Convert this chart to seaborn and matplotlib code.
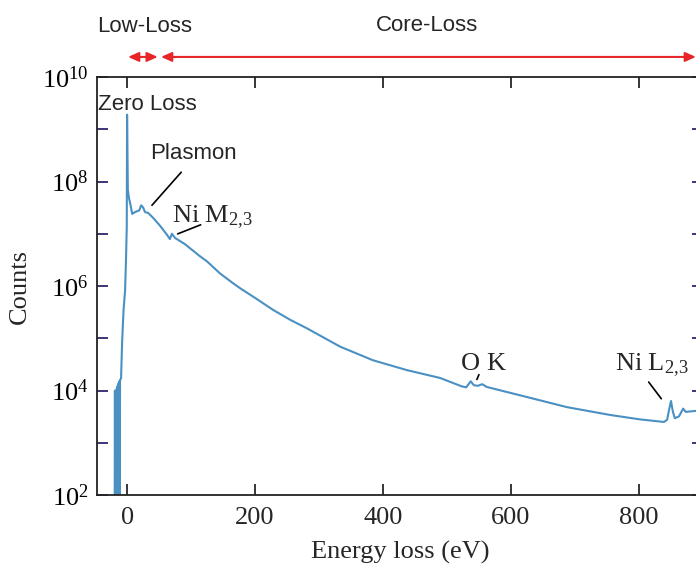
import numpy as np
import pandas as pd
import matplotlib
matplotlib.use("Agg")
import matplotlib.pyplot as plt
import matplotlib.ticker as mticker
import seaborn as sns

# ---- data ----
energy_ev = [-19.5, -19.0, -18.5, -18.0, -17.5, -17.0, -16.5, -16.0, -15.5, -15.0,
             -14.5, -14.0, -13.5, -13.0, -12.5, -12.0, -11.5, -11.0,
             -9.4, -7.8, -5.5, -3.1, -1.6, -0.5, 0.0, 1.2, 3.0, 5.5, 8.0, 12.5,
             19.0, 22.0, 25.0, 28.0, 33.0, 41.0, 52.0, 62.5, 67.0, 70.0, 75.0,
             90.6, 114.0, 125.0, 145.0, 166.0, 177.0, 203.0, 228.0, 255.0, 281.0,
             333.0, 384.0, 437.5, 489.0, 523.0, 530.0, 537.0, 542.0, 548.0, 555.0,
             562.0, 614.0, 687.5, 755.0, 801.5, 839.0, 844.0, 847.0, 850.0, 853.0,
             856.0, 862.5, 869.0, 873.0, 900.0]
counts = [10, 1.0e4, 10, 8.0e3, 10, 9.0e3, 10, 1.1e4, 10, 1.2e4,
          10, 1.3e4, 10, 1.4e4, 10, 1.5e4, 10, 1.6e4,
          1.7e4, 8.1e4, 3.5e5, 8.3e5, 3.5e6, 1.35e7, 1.9e9, 6.9e7, 4.8e7, 3.5e7, 2.4e7, 2.6e7,
          2.8e7, 3.5e7, 3.2e7, 2.6e7, 2.5e7, 2.0e7, 1.4e7, 9.5e6, 7.9e6, 1.0e7, 8.3e6,
          6.3e6, 3.7e6, 2.95e6, 1.75e6, 1.12e6, 9.0e5, 5.6e5, 3.5e5, 2.25e5, 1.55e5,
          6.9e4, 3.8e4, 2.45e4, 1.74e4, 1.2e4, 1.15e4, 1.5e4, 1.26e4, 1.23e4, 1.32e4,
          1.17e4, 8.1e3, 4.8e3, 3.4e3, 2.8e3, 2.5e3, 2.75e3, 4.3e3, 6.3e3, 3.9e3,
          2.95e3, 3.2e3, 4.5e3, 3.9e3, 4.2e3]

y_ticks = [1e2, 1e4, 1e6, 1e8, 1e10]
y_tick_labels = [r"$\mathregular{10^{2}}$", r"$\mathregular{10^{4}}$", r"$\mathregular{10^{6}}$",
                 r"$\mathregular{10^{8}}$", r"$\mathregular{10^{10}}$"]
y_minor = [1e3, 1e5, 1e7, 1e9]
x_ticks = [0, 200, 400, 600, 800]

df = pd.DataFrame({"Energy loss (eV)": energy_ev, "Counts": counts})

sns.set_theme(style="ticks")
plt.rcParams["font.family"] = ["Liberation Serif", "DejaVu Serif"]
plt.rcParams["mathtext.fontset"] = "custom"
plt.rcParams["mathtext.rm"] = "Liberation Serif"
plt.rcParams["mathtext.it"] = "Liberation Serif:italic"

SERIF = 19
SANS = 16
sans = ["Liberation Sans", "DejaVu Sans"]

fig = plt.figure(figsize=(6.96, 5.70), dpi=100)
ax = fig.add_axes([97 / 696, 75 / 570, (703 - 97) / 696, 418 / 570])

sns.lineplot(data=df, x="Energy loss (eV)", y="Counts", estimator=None, sort=False,
             color="#4a90c2", linewidth=1.5, ax=ax)

ax.set_yscale("log")
ax.set_xlim(-47, 900)
ax.set_ylim(1e2, 1e10)
ax.yaxis.set_major_locator(mticker.FixedLocator(y_ticks))
ax.yaxis.set_major_formatter(mticker.FixedFormatter(y_tick_labels))
ax.yaxis.set_minor_locator(mticker.FixedLocator(y_minor))
ax.yaxis.set_minor_formatter(mticker.NullFormatter())
ax.set_xticks(x_ticks)

ax.tick_params(axis="both", which="both", direction="in", top=True, right=True,
               labelsize=SERIF, width=1.3, length=8)
ax.tick_params(axis="y", which="both", colors="#2e2470", labelcolor="black", pad=6)
ax.tick_params(axis="x", pad=9)
for s in ax.spines.values():
    s.set_linewidth(1.3)
    s.set_color("#222222")

ax.set_xlabel("Energy loss (eV)", fontsize=SERIF, labelpad=8)
ax.set_ylabel("Counts", fontsize=SERIF, labelpad=8)

# peak labels
ax.text(-45, 3.0e9, "Zero Loss", family=sans, fontsize=SANS, ha="left", va="center")
ax.text(36, 3.4e8, "Plasmon", family=sans, fontsize=SANS, ha="left", va="center")
ax.annotate("", xy=(36, 3.2e7), xytext=(87.5, 1.65e8),
            arrowprops=dict(arrowstyle="-", color="black", lw=1.2))
ax.text(70, 1.66e7, r"Ni M$_{2{,}3}$", fontsize=SERIF, ha="left", va="baseline")
ax.annotate("", xy=(75, 9.5e6), xytext=(119, 1.55e7),
            arrowprops=dict(arrowstyle="-", color="black", lw=1.2))
ax.text(521, 2.45e4, "O", fontsize=SERIF, ha="left", va="baseline")
ax.text(561, 2.45e4, "K", fontsize=SERIF, ha="left", va="baseline")
ax.annotate("", xy=(545, 1.45e4), xytext=(551.5, 2.25e4),
            arrowprops=dict(arrowstyle="-", color="black", lw=1.2))
ax.text(762, 2.45e4, r"Ni L$_{2{,}3}$", fontsize=SERIF, ha="left", va="baseline")
ax.annotate("", xy=(837.5, 6.3e3), xytext=(812.5, 1.6e4),
            arrowprops=dict(arrowstyle="-", color="black", lw=1.2))

# loss-region arrows above the axes
tr = ax.get_xaxis_transform()
red = "#e8262a"
astyle = "<|-|>,head_length=0.45,head_width=0.2"
ax.annotate("", xy=(48, 1.048), xytext=(1.5, 1.048), xycoords=tr, textcoords=tr,
            annotation_clip=False,
            arrowprops=dict(arrowstyle=astyle, color=red, lw=1.5,
                            shrinkA=0, shrinkB=0, mutation_scale=14))
ax.annotate("", xy=(889, 1.048), xytext=(53, 1.048), xycoords=tr, textcoords=tr,
            annotation_clip=False,
            arrowprops=dict(arrowstyle=astyle, color=red, lw=1.5,
                            shrinkA=0, shrinkB=0, mutation_scale=14))
ax.text(28, 1.12, "Low-Loss", transform=tr, family=sans, fontsize=SANS,
        ha="center", va="center")
ax.text(469, 1.124, "Core-Loss", transform=tr, family=sans, fontsize=SANS,
        ha="center", va="center")

fig.savefig("out.png", dpi=100)
